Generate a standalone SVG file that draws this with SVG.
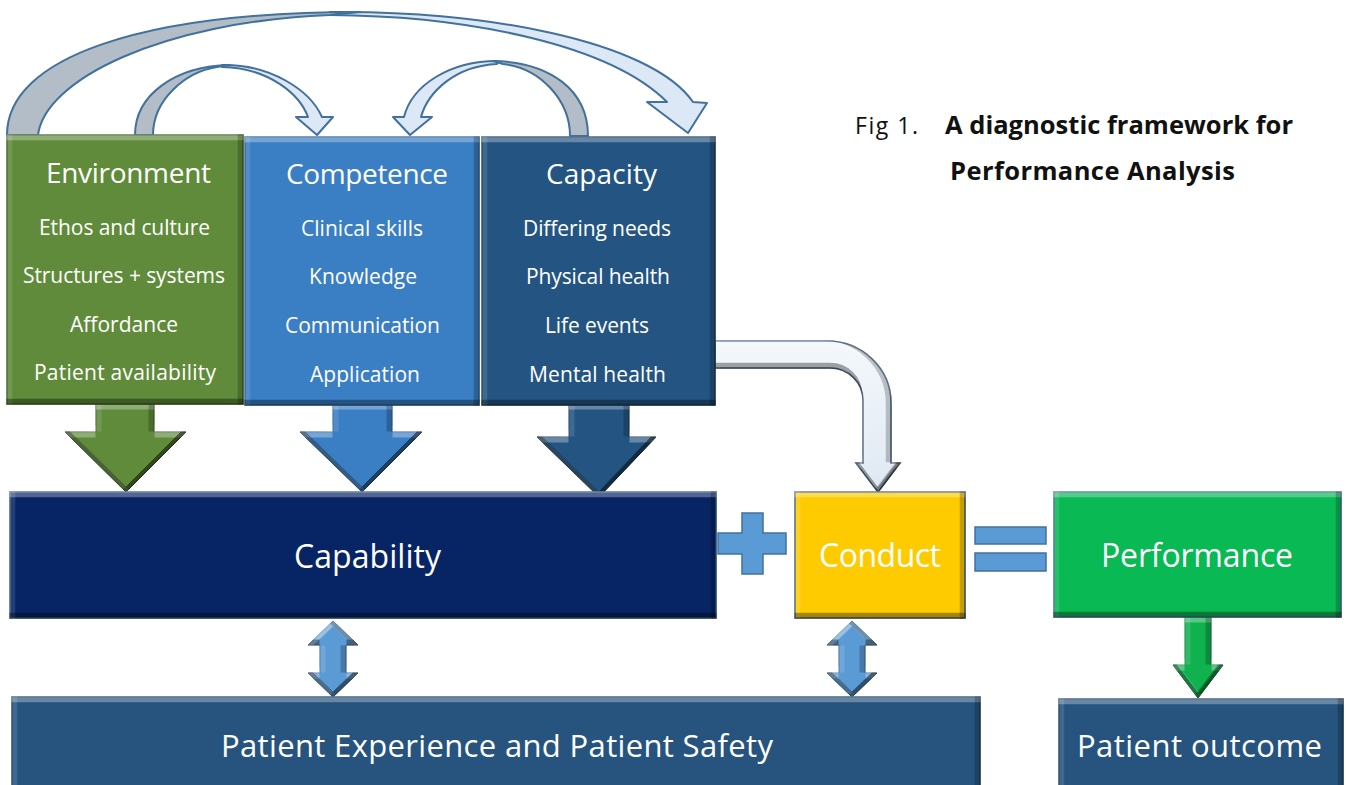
<svg xmlns="http://www.w3.org/2000/svg" width="1346" height="785" viewBox="0 0 1346 785">
<defs>
<filter id="bv" x="-5%" y="-5%" width="110%" height="110%" color-interpolation-filters="sRGB">
<feOffset in="SourceAlpha" dx="0" dy="6" result="dn"/>
<feComposite in="SourceAlpha" in2="dn" operator="out" result="topE"/>
<feOffset in="SourceAlpha" dx="0" dy="-6" result="up"/>
<feComposite in="SourceAlpha" in2="up" operator="out" result="botE"/>
<feOffset in="SourceAlpha" dx="6" dy="0" result="rt"/>
<feComposite in="SourceAlpha" in2="rt" operator="out" result="leftE"/>
<feOffset in="SourceAlpha" dx="-6" dy="0" result="lf"/>
<feComposite in="SourceAlpha" in2="lf" operator="out" result="rightE"/>
<feFlood flood-color="#ffffff" flood-opacity="0.3"/>
<feComposite in2="topE" operator="in" result="hiT"/>
<feFlood flood-color="#ffffff" flood-opacity="0.12"/>
<feComposite in2="leftE" operator="in" result="hiL"/>
<feFlood flood-color="#000000" flood-opacity="0.35"/>
<feComposite in2="botE" operator="in" result="shB"/>
<feFlood flood-color="#000000" flood-opacity="0.22"/>
<feComposite in2="rightE" operator="in" result="shR"/>
<feMerge><feMergeNode in="SourceGraphic"/><feMergeNode in="hiT"/><feMergeNode in="hiL"/><feMergeNode in="shR"/><feMergeNode in="shB"/></feMerge>
</filter>
<linearGradient id="elb" x1="0" y1="0" x2="0" y2="1">
<stop offset="0" stop-color="#f4f8fc"/><stop offset="1" stop-color="#dfe8f2"/>
</linearGradient>
</defs>
<style>
.bv{filter:url(#bv)}
.t{font-family:"Open Sans","Liberation Sans",sans-serif;fill:#ffffff;text-anchor:middle}
.h{font-size:28px}
.i{font-size:21px}
.b{font-size:32px}
.p{font-size:31px}
.arc{stroke:#41719c;stroke-width:2;stroke-linejoin:round}
.lt{fill:#dce8f5}
.gr{fill:#b3bdc8}
.op{fill:#5b9bd5;stroke:#41719c;stroke-width:1.5}
.ttl{font-family:"Open Sans","Liberation Sans",sans-serif;fill:#111111;font-size:23px}
.bd{font-weight:bold;font-size:25.5px}
</style>

<g id="connectors">
<path class="arc lt" d="M330,12 C480,10 650,40 693,102 L707,103 L688,133 L647,102 L667,102 C610,45 470,16 330,15 Z"/>
<path class="arc gr" d="M7,135 C7,58 140,12 360,12 L330,15 C160,22 45,80 38,135 Z"/>
<path class="arc lt" d="M222,65 C270,64 310,90 322,117 L333,117 L317,135 L296,117 L308,117 C300,95 270,68 222,67 Z"/>
<path class="arc gr" d="M135,135 C135,95 175,66 230,65 L217,67 C185,72 153,100 153,135 Z"/>
<path class="arc lt" d="M497,61 C450,61 412,85 404,117 L393,117 L410,135 L432,117 L421,117 C428,92 455,66 497,64 Z"/>
<path class="arc gr" d="M588,136 C588,90 550,62 493,61 L503,64 C540,68 570,100 570,136 Z"/>
<path class="bv" fill="#5f8b3a" stroke="#3e5d26" stroke-width="1" d="M96,404 L154,404 L154,432 L186,432 L126,492 L65,432 L96,432 Z"/>
<path class="bv" fill="#3a7ec4" stroke="#2a5f95" stroke-width="1" d="M333,404 L392,404 L392,432 L422,432 L362,492 L300,432 L333,432 Z"/>
<path class="bv" fill="#245582" stroke="#173a5c" stroke-width="1" d="M569,404 L629,404 L629,437 L656,437 L599,497 L537,437 L569,437 Z"/>
<path class="bv" fill="url(#elb)" stroke="#41607f" stroke-width="1.5" d="M715,341 L827,341 A64,62 0 0 1 891,403 L891,463 L900,463 L878,492 L856,463 L863,463 L863,400 A33,32 0 0 0 830,368 L715,368 Z"/>
<path class="bv" fill="#5b9bd5" stroke="#41719c" stroke-width="1" d="M333,621 L358,645 L346,645 L346,673 L358,673 L333,697 L308,673 L320,673 L320,645 L308,645 Z"/>
<path class="bv" fill="#5b9bd5" stroke="#41719c" stroke-width="1" d="M852,621 L877,645 L865,645 L865,673 L877,673 L852,697 L827,673 L839,673 L839,645 L827,645 Z"/>
<path class="bv" fill="#10b24f" stroke="#0c8a3d" stroke-width="1" d="M1185,617 L1211,617 L1211,665 L1223,665 L1198,698 L1173,665 L1185,665 Z"/>
<path class="op" d="M742,513 L763,513 L763,533 L786,533 L786,554 L763,554 L763,574 L742,574 L742,554 L718,554 L718,533 L742,533 Z"/>
<rect class="op" x="975" y="527" width="71" height="17"/>
<rect class="op" x="975" y="553" width="71" height="18"/>
</g>

<g id="environment">
<rect class="bv" x="7" y="135" width="236" height="269" fill="#5f8b3a" stroke="#3e5d26" stroke-width="1.5"/>
<text class="t h" x="128.5" y="183" textLength="165">Environment</text>
<text class="t i" x="124.5" y="235" textLength="171">Ethos and culture</text>
<text class="t i" x="124" y="283" textLength="202">Structures + systems</text>
<text class="t i" x="124" y="332" textLength="108">Affordance</text>
<text class="t i" x="125" y="380" textLength="182">Patient availability</text>
</g>

<g id="competence">
<rect class="bv" x="245" y="137" width="234" height="268" fill="#3a7ec4" stroke="#2a5f95" stroke-width="1.5"/>
<text class="t h" x="367" y="184" textLength="162">Competence</text>
<text class="t i" x="362" y="236" textLength="122">Clinical skills</text>
<text class="t i" x="363" y="284" textLength="108">Knowledge</text>
<text class="t i" x="362.5" y="333" textLength="155">Communication</text>
<text class="t i" x="365" y="382" textLength="110">Application</text>
</g>

<g id="capacity">
<rect class="bv" x="482" y="137" width="233" height="268" fill="#245582" stroke="#173a5c" stroke-width="1.5"/>
<text class="t h" x="601.5" y="184" textLength="111">Capacity</text>
<text class="t i" x="597" y="236" textLength="148">Differing needs</text>
<text class="t i" x="598" y="284" textLength="144">Physical health</text>
<text class="t i" x="597" y="333" textLength="104">Life events</text>
<text class="t i" x="597.5" y="382" textLength="137">Mental health</text>
</g>

<g id="capability">
<rect class="bv" x="10" y="492" width="706" height="126" fill="#072464" stroke="#2f5a8a" stroke-width="1.5"/>
<text class="t b" x="367.5" y="568" textLength="147">Capability</text>
</g>

<g id="conduct">
<rect class="bv" x="795" y="492" width="170" height="126" fill="#fecb00" stroke="#46607a" stroke-width="1.5"/>
<text class="t b" x="880" y="567" textLength="122">Conduct</text>
</g>

<g id="performance">
<rect class="bv" x="1054" y="492" width="287" height="125" fill="#08b954" stroke="#3d6e96" stroke-width="1.5"/>
<text class="t b" x="1197" y="567" textLength="192">Performance</text>
</g>

<g id="patient-experience">
<rect class="bv" x="12" y="697" width="968" height="100" fill="#26547f" stroke="#1a3d60" stroke-width="1.5"/>
<text class="t p" x="497" y="757" textLength="552">Patient Experience and Patient Safety</text>
</g>

<g id="patient-outcome">
<rect class="bv" x="1059" y="699" width="284" height="100" fill="#26547f" stroke="#1a3d60" stroke-width="1.5"/>
<text class="t p" x="1199.5" y="757" textLength="245">Patient outcome</text>
</g>

<g id="title">
<text class="ttl" x="855" y="134" textLength="63">Fig 1.</text>
<text class="ttl bd" x="945" y="134" textLength="348">A diagnostic framework for</text>
<text class="ttl bd" x="950" y="180" textLength="285">Performance Analysis</text>
</g>
</svg>
